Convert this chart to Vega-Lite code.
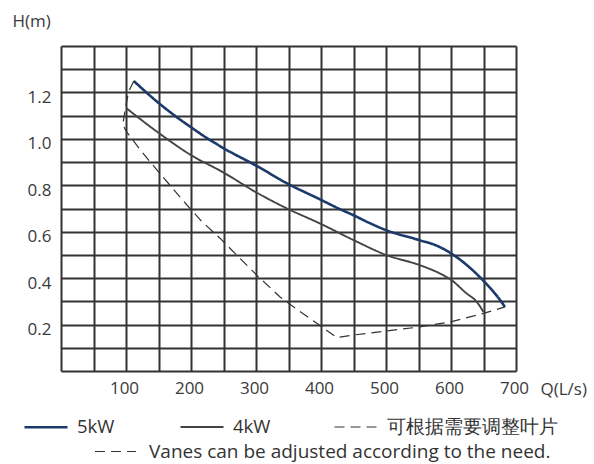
{
  "$schema": "https://vega.github.io/schema/vega-lite/v6.json",
  "width": 455,
  "height": 325,
  "autosize": {"type": "none"},
  "padding": {"left": 61, "top": 46, "right": 78, "bottom": 93},
  "background": "white",
  "datasets": {
    "motor": [
      {"series": "5kW", "q": 112, "h": 1.249},
      {"series": "5kW", "q": 150, "h": 1.155},
      {"series": "5kW", "q": 175, "h": 1.1},
      {"series": "5kW", "q": 200, "h": 1.05},
      {"series": "5kW", "q": 222, "h": 1.008},
      {"series": "5kW", "q": 250, "h": 0.96},
      {"series": "5kW", "q": 300, "h": 0.885},
      {"series": "5kW", "q": 350, "h": 0.805},
      {"series": "5kW", "q": 398, "h": 0.74},
      {"series": "5kW", "q": 427, "h": 0.7},
      {"series": "5kW", "q": 450, "h": 0.671},
      {"series": "5kW", "q": 475, "h": 0.637},
      {"series": "5kW", "q": 500, "h": 0.607},
      {"series": "5kW", "q": 551, "h": 0.564},
      {"series": "5kW", "q": 578, "h": 0.54},
      {"series": "5kW", "q": 601, "h": 0.505},
      {"series": "5kW", "q": 627, "h": 0.45},
      {"series": "5kW", "q": 648, "h": 0.394},
      {"series": "5kW", "q": 677, "h": 0.3},
      {"series": "5kW", "q": 683, "h": 0.276},
      {"series": "4kW", "q": 101, "h": 1.131},
      {"series": "4kW", "q": 150, "h": 1.026},
      {"series": "4kW", "q": 200, "h": 0.93},
      {"series": "4kW", "q": 250, "h": 0.855},
      {"series": "4kW", "q": 300, "h": 0.77},
      {"series": "4kW", "q": 350, "h": 0.697},
      {"series": "4kW", "q": 398, "h": 0.636},
      {"series": "4kW", "q": 450, "h": 0.564},
      {"series": "4kW", "q": 501, "h": 0.499},
      {"series": "4kW", "q": 552, "h": 0.456},
      {"series": "4kW", "q": 583, "h": 0.42},
      {"series": "4kW", "q": 601, "h": 0.391},
      {"series": "4kW", "q": 624, "h": 0.334},
      {"series": "4kW", "q": 639, "h": 0.3},
      {"series": "4kW", "q": 650, "h": 0.254}
    ],
    "vanes": [
      {"series": "可根据需要调整叶片", "i": 0, "q": 112, "h": 1.249},
      {"series": "可根据需要调整叶片", "i": 1, "q": 104, "h": 1.203},
      {"series": "可根据需要调整叶片", "i": 2, "q": 99, "h": 1.131},
      {"series": "可根据需要调整叶片", "i": 3, "q": 95, "h": 1.06},
      {"series": "可根据需要调整叶片", "i": 4, "q": 101, "h": 1.03},
      {"series": "可根据需要调整叶片", "i": 5, "q": 122, "h": 0.952},
      {"series": "可根据需要调整叶片", "i": 6, "q": 150, "h": 0.858},
      {"series": "可根据需要调整叶片", "i": 7, "q": 194, "h": 0.714},
      {"series": "可根据需要调整叶片", "i": 8, "q": 217, "h": 0.643},
      {"series": "可根据需要调整叶片", "i": 9, "q": 245, "h": 0.571},
      {"series": "可根据需要调整叶片", "i": 10, "q": 301, "h": 0.413},
      {"series": "可根据需要调整叶片", "i": 11, "q": 337, "h": 0.319},
      {"series": "可根据需要调整叶片", "i": 12, "q": 363, "h": 0.265},
      {"series": "可根据需要调整叶片", "i": 13, "q": 398, "h": 0.197},
      {"series": "可根据需要调整叶片", "i": 14, "q": 424, "h": 0.144},
      {"series": "可根据需要调整叶片", "i": 15, "q": 447, "h": 0.154},
      {"series": "可根据需要调整叶片", "i": 16, "q": 552, "h": 0.19},
      {"series": "可根据需要调整叶片", "i": 17, "q": 598, "h": 0.211},
      {"series": "可根据需要调整叶片", "i": 18, "q": 650, "h": 0.248},
      {"series": "可根据需要调整叶片", "i": 19, "q": 683, "h": 0.276}
    ]
  },
  "encoding": {
    "x": {
      "field": "q",
      "type": "quantitative",
      "scale": {"domain": [0, 700], "nice": false},
      "axis": {
        "values": [0, 50, 100, 150, 200, 250, 300, 350, 400, 450, 500, 550, 600, 650, 700],
        "labelExpr": "datum.value > 0 && datum.value % 100 == 0 ? datum.label : ''",
        "title": "Q(L/s)",
        "titleAngle": 0,
        "titleX": 479,
        "titleY": 18,
        "titleAlign": "left",
        "titleBaseline": "middle",
        "labelPadding": 9,
        "labelOffset": -2,
        "labelFlush": false,
        "labelOverlap": false
      }
    },
    "y": {
      "field": "h",
      "type": "quantitative",
      "scale": {"domain": [0, 1.4], "nice": false, "zero": false},
      "axis": {
        "values": [0, 0.1, 0.2, 0.3, 0.4, 0.5, 0.6, 0.7, 0.8, 0.9, 1.0, 1.1, 1.2, 1.3, 1.4],
        "labelExpr": "datum.value > 0.15 && datum.value < 1.25 && round(datum.value * 10) % 2 == 0 ? format(datum.value, '.1f') : ''",
        "title": "H(m)",
        "titleAngle": 0,
        "titleX": -49,
        "titleY": -25,
        "titleAlign": "left",
        "titleBaseline": "middle",
        "labelPadding": 10,
        "labelOffset": 5,
        "labelOverlap": false
      }
    },
    "color": {
      "field": "series",
      "type": "nominal",
      "scale": {"domain": ["5kW", "4kW", "可根据需要调整叶片"], "range": ["#1b3a6b", "#444444", "#333333"]},
      "legend": {"title": null, "orient": "none", "legendX": -38, "legendY": 358, "direction": "horizontal", "columns": 3, "symbolType": "stroke", "symbolSize": 1849, "labelOffset": 8, "columnPadding": 61, "labelLimit": 400, "labelFontSize": 18.5}
    },
    "strokeWidth": {
      "field": "series",
      "type": "nominal",
      "scale": {"domain": ["5kW", "4kW", "可根据需要调整叶片"], "range": [2.6, 1.2, 1.2]},
      "legend": {"title": null, "orient": "none", "legendX": -38, "legendY": 358, "direction": "horizontal", "columns": 3, "symbolType": "stroke", "symbolSize": 1849, "labelOffset": 8, "columnPadding": 61, "labelLimit": 400, "labelFontSize": 18.5}
    },
    "strokeDash": {
      "field": "series",
      "type": "nominal",
      "scale": {"domain": ["5kW", "4kW", "可根据需要调整叶片"], "range": [[1, 0], [1, 0], [10, 6]]},
      "legend": {"title": null, "orient": "none", "legendX": -38, "legendY": 358, "direction": "horizontal", "columns": 3, "symbolType": "stroke", "symbolSize": 1849, "labelOffset": 8, "columnPadding": 61, "labelLimit": 400, "labelFontSize": 18.5}
    }
  },
  "layer": [
    {
      "data": {"name": "motor"},
      "mark": {"type": "line", "interpolate": "monotone"}
    },
    {
      "data": {"name": "vanes"},
      "mark": {"type": "line"},
      "encoding": {
        "order": {"field": "i", "type": "quantitative"},
        "opacity": {
          "datum": "Vanes can be adjusted according to the need.",
          "type": "nominal",
          "scale": {"range": [1]},
          "legend": {"title": null, "orient": "none", "legendX": 33, "legendY": 384, "symbolType": "stroke", "symbolSize": 1681, "symbolDash": [10, 6], "symbolStrokeColor": "#333333", "symbolStrokeWidth": 1.2, "labelOffset": 12, "labelLimit": 500, "labelFontSize": 19}
        }
      }
    }
  ],
  "config": {
    "font": "Open Sans",
    "view": {"stroke": null},
    "axis": {
      "domain": false,
      "ticks": false,
      "grid": true,
      "gridColor": "#333333",
      "gridWidth": 2,
      "gridOpacity": 1,
      "labelFont": "Open Sans",
      "labelFontSize": 17,
      "labelColor": "#3a3a3a",
      "titleFont": "Open Sans",
      "titleFontSize": 17,
      "titleFontWeight": "normal",
      "titleColor": "#3a3a3a"
    },
    "legend": {
      "padding": 0,
      "labelFont": "Open Sans",
      "labelFontSize": 18,
      "labelColor": "#333333",
      "symbolStrokeWidth": 1.2
    }
  }
}
